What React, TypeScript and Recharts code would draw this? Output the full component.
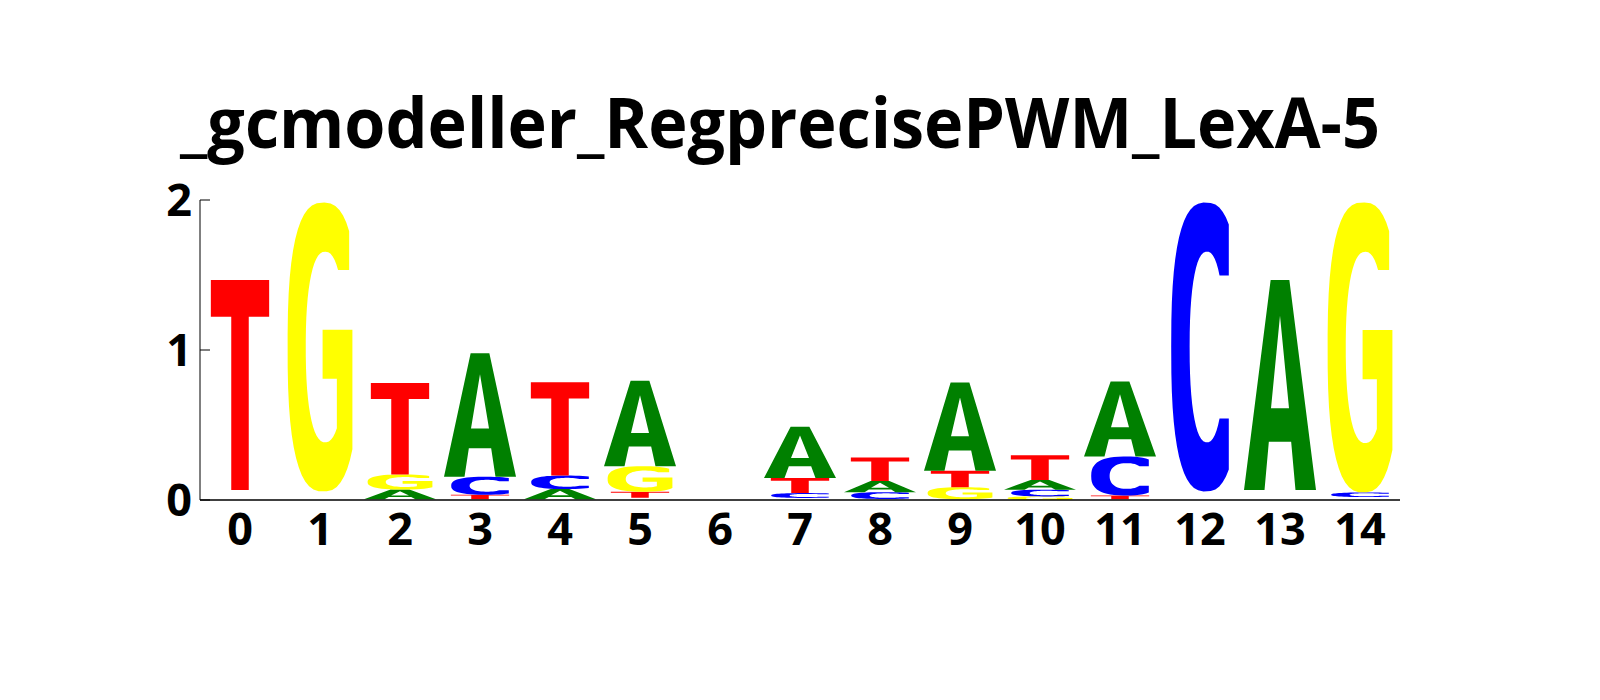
import React from 'react';
import { BarChart, Bar, XAxis, YAxis } from 'recharts';

// ---------- data ----------
const positions = ['0', '1', '2', '3', '4', '5', '6', '7', '8', '9', '10', '11', '12', '13', '14'];
const heightA = [0.022, 0.019, 0.065, 0.823, 0.068, 0.57, 0, 0.343, 0.075, 0.589, 0.065, 0.5, 0.019, 1.4, 0.01];
const heightC = [0.022, 0.019, 0.005, 0.12, 0.09, 0.015, 0, 0.032, 0.045, 0.005, 0.045, 0.26, 1.926, 0.022, 0.03];
const heightG = [0.022, 1.926, 0.1, 0.005, 0.005, 0.17, 0, 0.014, 0.007, 0.08, 0.024, 0.005, 0.019, 0.022, 1.934];
const heightT = [1.4, 0.019, 0.61, 0.03, 0.622, 0.04, 0, 0.1, 0.157, 0.11, 0.165, 0.025, 0.019, 0.022, 0.01];
const yTicks = [0, 1, 2];
const title = '_gcmodeller_RegprecisePWM_LexA-5';

const COLORS: Record<string, string> = { A: '#008000', C: '#0000FF', G: '#FFFF00', T: '#FF0000' };
const LETTER_W: Record<string, number> = { A: 1.0, C: 0.8, G: 0.9, T: 0.81 };
const FONT = '"Open Sans", "Noto Sans", Arial, sans-serif';

const rows = positions.map((p, i) => {
  const items: [string, number][] = [
    ['A', heightA[i]],
    ['C', heightC[i]],
    ['G', heightG[i]],
    ['T', heightT[i]],
  ];
  items.sort((a, b) => a[1] - b[1]);
  const row: any = { pos: p };
  items.forEach(([l, v], k) => {
    row['r' + k] = v;
    row['L' + k] = l;
  });
  return row;
});

// ---------- glyph geometry (unit box 0..1) ----------
const fpow = (v: number, e: number) => Math.sign(v) * Math.pow(Math.abs(v), e);
function superPts(cx: number, cy: number, rx: number, ry: number, n: number, ta: number, tb: number, steps = 40) {
  const pts: [number, number][] = [];
  for (let i = 0; i <= steps; i++) {
    const t = ta + ((tb - ta) * i) / steps;
    pts.push([cx + rx * fpow(Math.cos(t), 2 / n), cy - ry * fpow(Math.sin(t), 2 / n)]);
  }
  return pts;
}

function unitPolys(letter: string): [number, number][][] {
  if (letter === 'T') {
    return [[[0, 0], [1, 0], [1, 0.175], [0.65, 0.175], [0.65, 1], [0.35, 1], [0.35, 0.175], [0, 0.175]]];
  }
  if (letter === 'A') {
    return [
      [[0, 1], [0.37, 0], [0.63, 0], [1, 1], [0.715, 1], [0.655, 0.77], [0.345, 0.77], [0.285, 1]],
      [[0.5, 0.17], [0.625, 0.61], [0.375, 0.61]],
    ];
  }
  if (letter === 'C') {
    const n = 2.6, cx = 0.6, rx = 0.6;
    const t0 = Math.acos(Math.pow((1 - cx) / rx, n / 2));
    const outer = superPts(cx, 0.5, rx, 0.5, n, t0, 2 * Math.PI - t0);
    const t1 = 0.8;
    const inner = superPts(0.62, 0.5, 0.3, 0.33, 2.3, 2 * Math.PI - t1, t1);
    const yb = inner[0][1];
    const yt = inner[inner.length - 1][1];
    return [[...outer, [1, yb], ...inner, [1, yt]]];
  }
  // G
  const n = 2.6, cx = 0.55, rx = 0.55;
  const t0 = Math.acos(Math.pow((0.95 - cx) / rx, n / 2));
  const t2 = Math.acos(Math.pow((1 - cx) / rx, n / 2));
  const outer = superPts(cx, 0.5, rx, 0.5, n, t0, 2 * Math.PI - t2);
  const ta = Math.acos(Math.pow((0.76 - 0.58) / 0.3, 2.3 / 2));
  const inner = superPts(0.58, 0.5, 0.3, 0.33, 2.3, 2 * Math.PI - ta, 0.9);
  const yt = inner[inner.length - 1][1];
  return [[...outer, [1, 0.44], [0.54, 0.44], [0.54, 0.61], [0.76, 0.61], ...inner, [0.95, yt]]];
}

function letterPath(letter: string, x: number, y: number, w: number, h: number) {
  return unitPolys(letter)
    .map((poly) => 'M' + poly.map(([u, v]) => `${(x + u * w).toFixed(2)},${(y + v * h).toFixed(2)}`).join('L') + 'Z')
    .join('');
}

const makeShape = (rank: number) => (props: any) => {
  const { x, y, width, height, payload } = props;
  const letter = payload ? payload['L' + rank] : undefined;
  if (!letter || !(height >= 3.5)) return <g />;
  const lw = LETTER_W[letter] * width;
  const lx = x + (width - lw) / 2;
  return <path d={letterPath(letter, lx, y, lw, height)} fill={COLORS[letter]} fillRule="evenodd" />;
};

// ---------- layout ----------
const W = 1584;
const H = 684;
const PLOT_LEFT = 192;
const PLOT_BOTTOM = 492;

const YTick = (props: any) => {
  const { y, payload } = props;
  return (
    <g>
      <line x1={PLOT_LEFT} x2={PLOT_LEFT + 10} y1={y} y2={y} stroke="#000" strokeWidth={1} />
      <text x={PLOT_LEFT - 8} y={y + 16} textAnchor="end" fontSize={45} fontWeight={700} fontFamily={FONT} fill="#000">
        {payload.value}
      </text>
    </g>
  );
};

const XTick = (props: any) => {
  const { x, payload } = props;
  return (
    <text x={x} y={PLOT_BOTTOM + 45} textAnchor="middle" fontSize={45} fontWeight={700} fontFamily={FONT} fill="#000">
      {payload.value}
    </text>
  );
};

export default function App() {
  return (
    <div style={{ position: 'relative', width: W, height: H, background: '#fff' }}>
      <BarChart
        width={W}
        height={H}
        data={rows}
        margin={{ top: 192, right: 192, bottom: 162, left: 132 }}
        barSize={72}
      >
        <XAxis
          dataKey="pos"
          interval={0}
          tickLine={false}
          axisLine={{ stroke: '#000', strokeWidth: 1.5 }}
          tick={<XTick />}
          height={30}
        />
        <YAxis
          type="number"
          domain={[0, 2]}
          ticks={yTicks}
          tickLine={false}
          axisLine={{ stroke: '#000', strokeWidth: 1 }}
          tick={<YTick />}
          width={60}
          allowDataOverflow
        />
        {[0, 1, 2, 3].map((k) => (
          <Bar key={k} dataKey={'r' + k} stackId="logo" isAnimationActive={false} shape={makeShape(k)} />
        ))}
      </BarChart>
      <svg width={W} height={H} style={{ position: 'absolute', left: 0, top: 0, pointerEvents: 'none' }}>
        <text
          x={172}
          y={140}
          fontSize={70}
          fontWeight={700}
          fontFamily={FONT}
          fill="#000"
          textLength={1200}
          lengthAdjust="spacingAndGlyphs"
        >
          {title}
        </text>
      </svg>
    </div>
  );
}
